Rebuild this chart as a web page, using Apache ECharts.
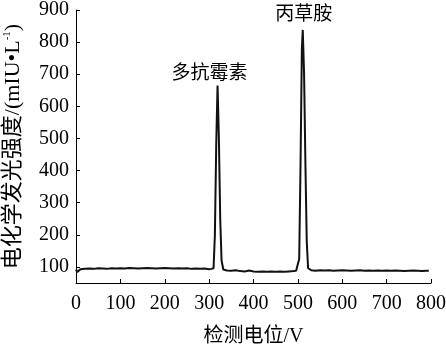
<!DOCTYPE html>
<html>
<head>
<meta charset="utf-8">
<script src="https://cdn.jsdelivr.net/npm/echarts@6/dist/echarts.min.js"></script>
<style>html,body{margin:0;padding:0;background:#fff}#c{width:446px;height:347px}</style>
</head>
<body>
<div id="c"></div>
<script>
var xTicks = [0, 100, 200, 300, 400, 500, 600, 700, 800];
var yTicks = [100, 200, 300, 400, 500, 600, 700, 800, 900];
var potential = [0, 3, 6, 10, 20, 30, 40, 50, 60, 70, 80, 90, 100, 110, 120, 130, 140, 150, 160, 170, 180, 190, 200, 210, 220, 230, 240, 250, 260, 270, 280, 290, 300, 305, 310, 313, 316, 319, 322, 325, 328, 332, 340, 350, 360, 370, 380, 390, 400, 410, 420, 430, 440, 450, 460, 470, 480, 490, 496, 500, 503, 506, 509, 511, 514, 517, 520, 523, 530, 540, 550, 560, 570, 580, 590, 600, 610, 620, 630, 640, 650, 660, 670, 680, 690, 700, 710, 720, 730, 740, 750, 760, 770, 780, 790, 795];
var intensity = [92, 84, 90, 93, 94, 95, 94, 96, 95, 94, 96, 95, 96, 95, 97, 96, 95, 96, 97, 96, 95, 96, 97, 96, 95, 96, 95, 96, 94, 95, 94, 95, 93, 94, 96, 200, 480, 665, 500, 250, 120, 92, 89, 88, 90, 87, 86, 89, 86, 85, 86, 85, 86, 85, 86, 85, 86, 87, 88, 90, 125, 420, 780, 838, 700, 420, 180, 96, 90, 88, 90, 89, 90, 88, 89, 90, 89, 88, 89, 90, 88, 89, 88, 89, 88, 89, 88, 89, 88, 87, 88, 89, 88, 87, 88, 88];
var peakNames = ['多抗霉素', '丙草胺'];
var peakPos = [[319, 665], [511, 838]];

var data = potential.map(function (x, i) { return [x, intensity[i]]; });
var serif = '"Liberation Serif", "Times New Roman", "Noto Sans CJK SC", serif';

var chart = echarts.init(document.getElementById('c'));
chart.setOption({
  animation: false,
  grid: { left: 76, right: 15, top: 10, bottom: 64, containLabel: false, outerBoundsMode: 'none' },
  xAxis: {
    type: 'value', min: 0, max: 800, interval: 100,
    name: '检测电位/V', nameLocation: 'middle', nameGap: 44,
    nameTextStyle: { color: '#000', fontSize: 20, fontFamily: serif },
    axisLine: { lineStyle: { color: '#000', width: 1 } },
    axisTick: { inside: true, length: 4, lineStyle: { color: '#000' } },
    axisLabel: { color: '#000', fontSize: 20, fontFamily: serif, margin: 11 },
    splitLine: { show: false }
  },
  yAxis: {
    type: 'value', min: 50, max: 900,
    name: '{a|电化学发光强度/(mIU•L}{s|-1}{a|)}', nameLocation: 'middle', nameGap: 52,
    nameTextStyle: { rich: { a: { fontSize: 22, fontFamily: serif, color: '#000' }, s: { fontSize: 11, fontFamily: serif, color: '#000', verticalAlign: 'top', padding: [0, 0, 10, 0] } } },
    axisLine: { show: true, lineStyle: { color: '#000', width: 1 } },
    axisTick: { show: true, inside: true, length: 4, lineStyle: { color: '#000' }, customValues: yTicks },
    axisLabel: { color: '#000', fontSize: 20, fontFamily: serif, margin: 7, customValues: yTicks },
    splitLine: { show: false }
  },
  series: [{
    type: 'line', data: data, showSymbol: false, symbol: 'none',
    lineStyle: { color: '#111', width: 2 },
    markPoint: {
      symbol: 'circle', symbolSize: 0,
      label: { show: true, color: '#000', fontSize: 19, fontFamily: serif, formatter: '{b}' },
      data: [
        { name: peakNames[0], coord: peakPos[0], label: { offset: [-8, -11] } },
        { name: peakNames[1], coord: peakPos[1], label: { offset: [1, -15] } }
      ]
    }
  }]
});
</script>
</body>
</html>
